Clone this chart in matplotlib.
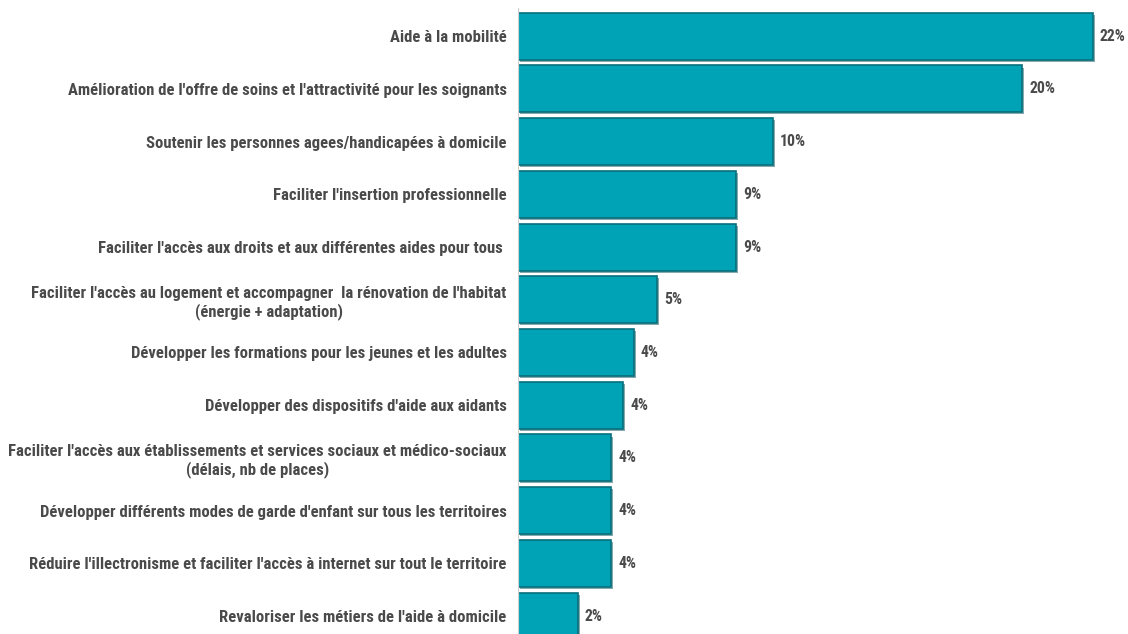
import matplotlib.pyplot as plt
import matplotlib.patheffects as pe
from matplotlib import font_manager

categories = [
    "Aide à la mobilité",
    "Amélioration de l'offre de soins et l'attractivité pour les soignants",
    "Soutenir les personnes agees/handicapées à domicile",
    "Faciliter l'insertion professionnelle",
    "Faciliter l'accès aux droits et aux différentes aides pour tous ",
    "Faciliter l'accès au logement et accompagner  la rénovation de l'habitat\n(énergie + adaptation)",
    "Développer les formations pour les jeunes et les adultes",
    "Développer des dispositifs d'aide aux aidants",
    "Faciliter l'accès aux établissements et services sociaux et médico-sociaux\n(délais, nb de places)",
    "Développer différents modes de garde d'enfant sur tous les territoires",
    "Réduire l'illectronisme et faciliter l'accès à internet sur tout le territoire",
    "Revaloriser les métiers de l'aide à domicile",
]
values = [22.1, 19.4, 9.8, 8.4, 8.4, 5.35, 4.45, 4.05, 3.6, 3.6, 3.6, 2.3]
value_labels = ["22%", "20%", "10%", "9%", "9%", "5%", "4%", "4%", "4%", "4%", "4%", "2%"]

# pick a narrow font if one is there
names = {f.name for f in font_manager.fontManager.ttflist}
font = "Roboto"
for cand in ["Roboto Condensed", "DejaVu Sans Condensed", "Liberation Sans Narrow", "Open Sans Condensed"]:
    if cand in names:
        font = cand
        break
plt.rcParams['font.family'] = [font, 'DejaVu Sans']

bar_color = "#00a3b6"
text_color = "#4a4a4a"

fig = plt.figure(figsize=(11.28, 6.34), dpi=100)
ax = fig.add_axes([0.459, 0.0, 0.541, 0.987])

# size the labels so the widest line is ~438 px like the reference
renderer = fig.canvas.get_renderer()
probe = fig.text(0, 0, categories[1], fontsize=10, fontweight="bold")
w = probe.get_window_extent(renderer).width
probe.remove()
fs = 10 * 436 / w
fs = min(fs, 12.5)

pos = list(range(len(categories)))
bars = ax.barh(pos, values, height=0.89, color=bar_color, edgecolor="#08707c", linewidth=1.2)
for b in bars:
    b.set_path_effects([pe.SimplePatchShadow(offset=(1.5, -1.5), shadow_rgbFace="#0a5560", alpha=0.5), pe.Normal()])

for p, v, lab in zip(pos, values, value_labels):
    ax.text(v + 0.28, p, lab, va="center", ha="left", fontsize=fs * 0.95, fontweight="bold", color=text_color)

ax.set_xlim(0, 23.46)
ax.set_ylim(11.34, -0.53)
ax.set_yticks(pos)
ax.set_yticklabels(categories, fontsize=fs, fontweight="bold", color=text_color, multialignment="center")
ax.tick_params(axis="y", length=0, pad=8)
ax.set_xticks([])
for s in ["top", "right", "bottom"]:
    ax.spines[s].set_visible(False)
ax.spines["left"].set_color("#d0d0d0")
ax.spines["left"].set_linewidth(0.8)

fig.savefig("out.png", dpi=100)
